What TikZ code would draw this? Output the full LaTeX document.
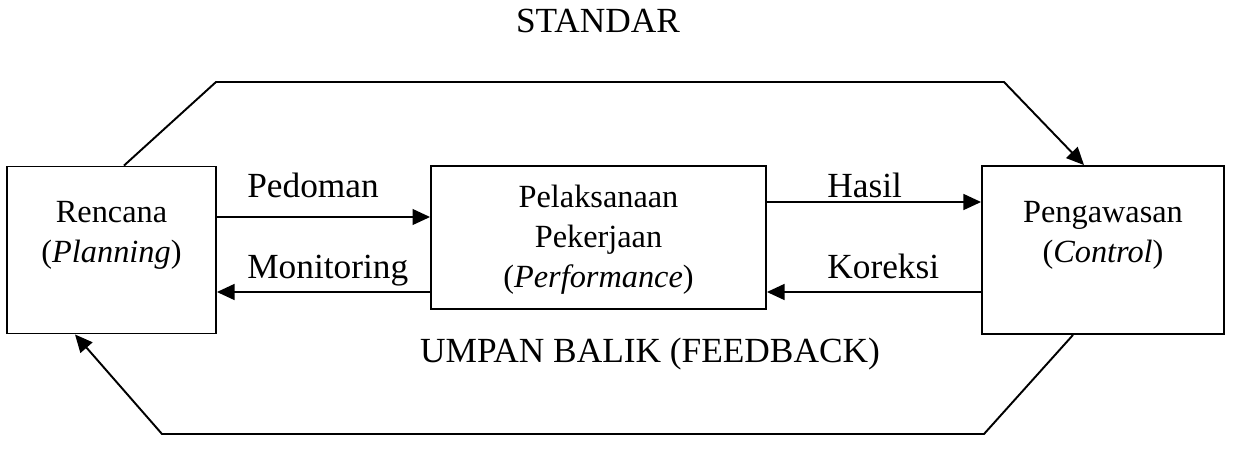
\documentclass[tikz,border=0pt]{standalone}
\usepackage{fontspec}
\setmainfont{Liberation Serif}
\usetikzlibrary{arrows.meta}

\tikzset{
    kotak/.style={draw, line width=1.1pt, inner sep=0pt},
    isi/.style={align=center, font=\fontsize{18.4}{22.7}\selectfont},
    ket/.style={font=\fontsize{20.1}{24}\selectfont, anchor=base west, inner sep=0pt},
    judul/.style={font=\fontsize{20.1}{24}\selectfont, anchor=base},
    alur/.style={line width=1.1pt, -{Triangle[length=10pt,width=9pt]}}
}

\begin{document}
\begin{tikzpicture}[x=0.02cm, y=-0.02cm]
    \useasboundingbox (0,0) rectangle (1238,454);
    % kotak
    \node[kotak, minimum width=4.18cm, minimum height=3.34cm] (rencana) at (111.5,250) {};
    \node[kotak, minimum width=6.7cm, minimum height=2.86cm] (pelaksanaan) at (598.5,237.5) {};
    \node[kotak, minimum width=4.84cm, minimum height=3.36cm] (pengawasan) at (1103,250) {};
    \node[isi] (trencana) at (111.5,235) {Rencana\\(\textit{Planning})};
    \node[isi] (tpelaksanaan) at (598.5,240) {Pelaksanaan\\Pekerjaan\\(\textit{Performance})};
    \node[isi] (tpengawasan) at (1103,235) {Pengawasan\\(\textit{Control})};
    % panah antar kotak
    \draw[alur] (rencana.east |- 0,217) -- (pelaksanaan.west |- 0,217);
    \draw[alur] (pelaksanaan.west |- 0,292) -- (rencana.east |- 0,292);
    \draw[alur] (pelaksanaan.east |- 0,202) -- (pengawasan.west |- 0,202);
    \draw[alur] (pengawasan.west |- 0,292) -- (pelaksanaan.east |- 0,292);
    \node[ket] (pedoman) at (247,197) {Pedoman};
    \node[ket] (monitoring) at (247,278) {Monitoring};
    \node[ket] (hasil) at (827,197) {Hasil};
    \node[ket] (koreksi) at (827,278) {Koreksi};
    % standar dan umpan balik
    \draw[alur] (124,0 |- rencana.north) -- (216,82) -- (1004,82) -- (1084,0 |- pengawasan.north);
    \draw[alur] (1073,0 |- pengawasan.south) -- (984,434) -- (162,434) -- (75,0 |- rencana.south);
    \node[judul] (standar) at (598,32) {STANDAR};
    \node[judul] (umpanbalik) at (650,362) {UMPAN BALIK (FEEDBACK)};
\end{tikzpicture}
\end{document}
